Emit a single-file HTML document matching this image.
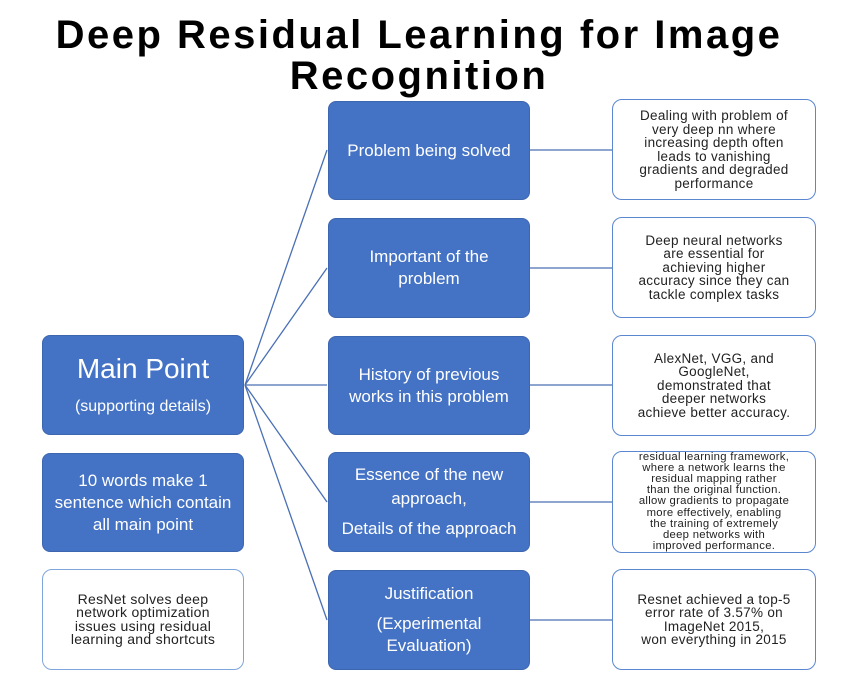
<!DOCTYPE html>
<html><head><meta charset="utf-8"><style>
body{margin:0;width:868px;height:677px;background:#fff;position:relative;overflow:hidden;font-family:"Liberation Sans",sans-serif}
.t{position:absolute;left:0;width:838px;text-align:center;font-weight:bold;font-size:40px;letter-spacing:2.5px;line-height:41px;color:#000;top:15px}
.b{position:absolute;box-sizing:border-box;display:flex;flex-direction:column;justify-content:center;align-items:center;text-align:center;border-radius:8px}
.m{background:#4472c4;color:#fff;font-size:17px;line-height:22px;border:1px solid #3d66b0}
.r{background:#fff;border:1.5px solid #5b86d0;color:#222;font-size:13.5px;letter-spacing:.3px;line-height:13.5px;border-radius:10px;padding:0 4px}
svg{position:absolute;left:0;top:0}
</style></head><body>
<div class="t">Deep Residual Learning for Image<br>Recognition</div>
<svg width="868" height="677"><g stroke="#4a6fb5" stroke-width="1.3" fill="none">
<line x1="245" y1="385" x2="327" y2="150"/><line x1="245" y1="385" x2="327" y2="268"/><line x1="245" y1="385" x2="327" y2="385"/><line x1="245" y1="385" x2="327" y2="502"/><line x1="245" y1="385" x2="327" y2="620"/>
<line x1="530" y1="150" x2="612" y2="150"/><line x1="530" y1="268" x2="612" y2="268"/><line x1="530" y1="385" x2="612" y2="385"/><line x1="530" y1="502" x2="612" y2="502"/><line x1="530" y1="620" x2="612" y2="620"/>
</g></svg>
<div class="b m" style="left:42px;top:335px;width:202px;height:100px"><div style="font-size:28px;line-height:34px">Main Point</div><div style="font-size:16px;margin-top:10px">(supporting details)</div></div>
<div class="b m" style="left:42px;top:453px;width:202px;height:99px">10 words make 1<br>sentence which contain<br>all main point</div>
<div class="b r" style="left:42px;top:569px;width:202px;height:101px;border-color:#7fa6dc;font-size:14px">ResNet solves deep<br>network optimization<br>issues using residual<br>learning and shortcuts</div>
<div class="b m" style="left:328px;top:101px;width:202px;height:99px">Problem being solved</div>
<div class="b m" style="left:328px;top:218px;width:202px;height:100px">Important of the<br>problem</div>
<div class="b m" style="left:328px;top:336px;width:202px;height:99px">History of previous<br>works in this problem</div>
<div class="b m" style="left:328px;top:452px;width:202px;height:100px;line-height:24px">Essence of the new<br>approach,<br><span style="margin-top:6px">Details of the approach</span></div>
<div class="b m" style="left:328px;top:570px;width:202px;height:100px;line-height:22px"><div>Justification</div><div style="margin-top:8px">(Experimental<br>Evaluation)</div></div>
<div class="b r" style="left:612px;top:99px;width:204px;height:101px">Dealing with problem of<br>very deep nn where<br>increasing depth often<br>leads to vanishing<br>gradients and degraded<br>performance</div>
<div class="b r" style="left:612px;top:217px;width:204px;height:101px">Deep neural networks<br>are essential for<br>achieving higher<br>accuracy since they can<br>tackle complex tasks</div>
<div class="b r" style="left:612px;top:335px;width:204px;height:101px">AlexNet, VGG, and<br>GoogleNet,<br>demonstrated that<br>deeper networks<br>achieve better accuracy.</div>
<div class="b r" style="left:612px;top:451px;width:204px;height:102px;font-size:11.3px;line-height:11.2px">residual learning framework,<br>where a network learns the<br>residual mapping rather<br>than the original function.<br>allow gradients to propagate<br>more effectively, enabling<br>the training of extremely<br>deep networks with<br>improved performance.</div>
<div class="b r" style="left:612px;top:569px;width:204px;height:101px">Resnet achieved a top-5<br>error rate of 3.57% on<br>ImageNet 2015,<br>won everything in 2015</div>
</body></html>
